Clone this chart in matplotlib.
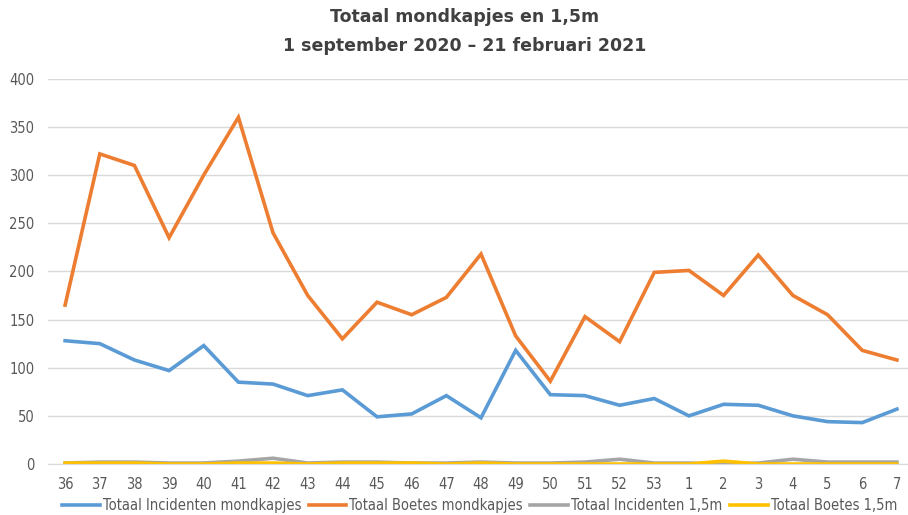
import matplotlib
matplotlib.use("Agg")
import matplotlib.pyplot as plt

# week numbers (sept 2020 - feb 2021)
weeks = ["36", "37", "38", "39", "40", "41", "42", "43", "44", "45", "46", "47",
         "48", "49", "50", "51", "52", "53", "1", "2", "3", "4", "5", "6", "7"]

incidenten_mondkapjes = [128, 125, 108, 97, 123, 85, 83, 71, 77, 49, 52, 71,
                         48, 118, 72, 71, 61, 68, 50, 62, 61, 50, 44, 43, 57]
boetes_mondkapjes = [165, 322, 310, 235, 300, 360, 240, 175, 130, 168, 155, 173,
                     218, 133, 86, 153, 127, 199, 201, 175, 217, 175, 155, 118, 108]
incidenten_15m = [1, 2, 2, 1, 1, 3, 6, 1, 2, 2, 1, 1,
                  2, 1, 1, 2, 5, 1, 1, 0, 1, 5, 2, 2, 2]
boetes_15m = [1, 1, 1, 0, 0, 1, 1, 0, 1, 1, 1, 0,
              1, 0, 0, 0, 0, 0, 0, 3, 0, 0, 0, 0, 0]

series = [
    ("Totaal Incidenten mondkapjes", incidenten_mondkapjes, "#5B9BD5"),
    ("Totaal Boetes mondkapjes", boetes_mondkapjes, "#ED7D31"),
    ("Totaal Incidenten 1,5m", incidenten_15m, "#A5A5A5"),
    ("Totaal Boetes 1,5m", boetes_15m, "#FFC000"),
]

fig = plt.figure(figsize=(9.08, 5.15), dpi=100)
ax = fig.add_axes([0.053, 0.099, 0.947, 0.748])

x = range(len(weeks))
for label, vals, color in series:
    ax.plot(x, vals, color=color, lw=2.6, label=label, solid_joinstyle="miter")

ax.set_ylim(0, 400)
ax.set_yticks(range(0, 401, 50))
ax.set_xlim(-0.49, 24.32)
ax.set_xticks(list(x))
ax.set_xticklabels(weeks)
ax.grid(axis="y", color="#D9D9D9", lw=1)
ax.set_axisbelow(True)
for s in ["top", "right", "left"]:
    ax.spines[s].set_visible(False)
ax.spines["bottom"].set_color("#D9D9D9")
ax.tick_params(length=0, colors="#595959", pad=9)
ax.tick_params(axis="y", pad=10)
for lab in ax.get_xticklabels() + ax.get_yticklabels():
    lab.set_fontstretch("condensed")
    lab.set_fontsize(10.5)

fig.text(0.512, 0.984, "Totaal mondkapjes en 1,5m\n1 september 2020 \u2013 21 februari 2021",
         ha="center", va="top", fontsize=12.5, fontweight="bold", color="#404040",
         linespacing=1.8)

leg = fig.legend(loc="lower center", bbox_to_anchor=(0.528, -0.022), ncol=4,
                 frameon=False, prop={"stretch": "condensed", "size": 10.5},
                 handlelength=2.6, columnspacing=0.5, handletextpad=0.2)
for t in leg.get_texts():
    t.set_color("#595959")

fig.savefig("out.png", dpi=100)
